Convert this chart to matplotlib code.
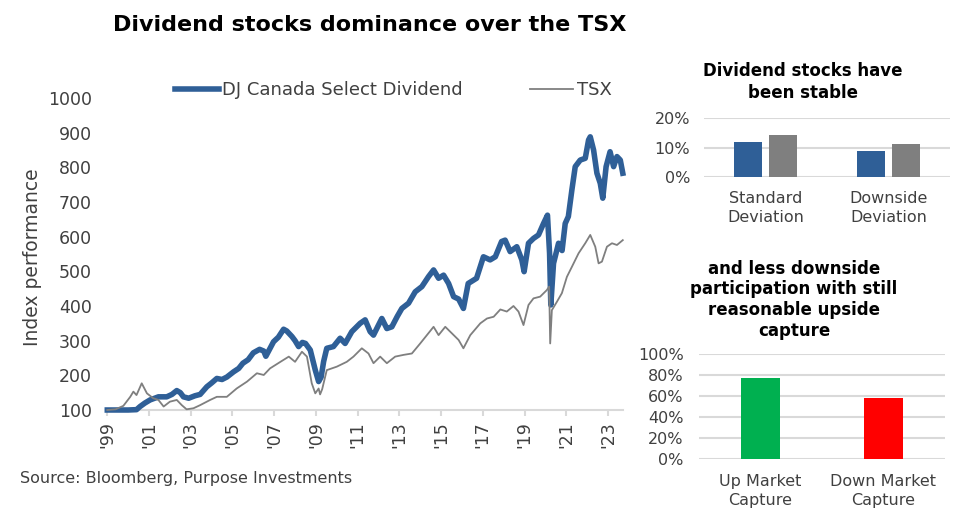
import matplotlib
matplotlib.use("Agg")
import matplotlib.pyplot as plt
from matplotlib.ticker import PercentFormatter

plt.rcParams['font.family'] = ['DejaVu Sans']

# DJ Canada Select Dividend (decimal year, index level)
div_years = [1999.0, 1999.5, 2000.0, 2000.4, 2000.57, 2000.8, 2001.05, 2001.45, 2001.85, 2002.1,
             2002.33, 2002.5, 2002.65, 2002.9, 2003.2, 2003.45, 2003.77, 2004.0, 2004.25, 2004.5,
             2004.73, 2005.05, 2005.3, 2005.5, 2005.75, 2006.0, 2006.3, 2006.5, 2006.6, 2006.97,
             2007.2, 2007.45, 2007.6, 2007.85, 2008.0, 2008.17, 2008.35, 2008.5, 2008.73, 2008.97,
             2009.13, 2009.25, 2009.37, 2009.52, 2009.84, 2010.16, 2010.4, 2010.72, 2011.12, 2011.36,
             2011.6, 2011.76, 2012.0, 2012.16, 2012.4, 2012.64, 2012.9, 2013.12, 2013.44, 2013.76,
             2014.08, 2014.4, 2014.64, 2014.88, 2015.12, 2015.36, 2015.6, 2015.84, 2016.07, 2016.3,
             2016.7, 2017.03, 2017.35, 2017.6, 2017.9, 2018.07, 2018.31, 2018.63, 2018.87, 2018.98,
             2019.19, 2019.43, 2019.67, 2019.91, 2020.1, 2020.2, 2020.26, 2020.39, 2020.63, 2020.8,
             2020.95, 2021.1, 2021.27, 2021.43, 2021.67, 2021.91, 2022.07, 2022.15, 2022.31, 2022.47,
             2022.63, 2022.75, 2022.91, 2023.1, 2023.27, 2023.43, 2023.59, 2023.71]
div_values = [100, 100, 100, 101, 110, 120, 129, 138, 138, 145,
              156, 150, 138, 134, 141, 145, 167, 178, 191, 188,
              195, 210, 220, 235, 245, 265, 275, 270, 255, 297,
              310, 333, 328, 312, 300, 283, 295, 292, 273, 215,
              182, 195, 240, 278, 283, 307, 292, 326, 350, 360,
              326, 316, 345, 364, 335, 340, 370, 393, 408, 441,
              456, 485, 504, 480, 489, 465, 427, 420, 393, 465,
              480, 542, 533, 542, 586, 590, 557, 571, 533, 499,
              581, 595, 605, 638, 662, 552, 403, 523, 581, 560,
              638, 658, 735, 802, 821, 826, 879, 888, 850, 783,
              754, 711, 802, 845, 802, 831, 821, 783]

# S&P/TSX (decimal year, index level)
tsx_years = [1999.0, 1999.4, 1999.77, 2000.1, 2000.25, 2000.4, 2000.65, 2000.9, 2001.2, 2001.45,
             2001.7, 2002.0, 2002.33, 2002.57, 2002.8, 2003.13, 2003.45, 2003.93, 2004.25, 2004.73,
             2005.2, 2005.7, 2006.17, 2006.5, 2006.8, 2007.3, 2007.7, 2008.0, 2008.33, 2008.57,
             2008.8, 2008.97, 2009.13, 2009.2, 2009.3, 2009.52, 2010.0, 2010.48, 2010.8, 2011.2,
             2011.52, 2011.76, 2012.08, 2012.4, 2012.8, 2013.2, 2013.6, 2014.0, 2014.32, 2014.64,
             2014.88, 2015.2, 2015.52, 2015.84, 2016.07, 2016.4, 2016.88, 2017.2, 2017.52, 2017.84,
             2018.15, 2018.47, 2018.71, 2018.95, 2019.19, 2019.43, 2019.75, 2020.07, 2020.18, 2020.23,
             2020.31, 2020.55, 2020.79, 2021.03, 2021.27, 2021.59, 2021.91, 2022.15, 2022.39, 2022.55,
             2022.71, 2022.95, 2023.19, 2023.43, 2023.71]
tsx_values = [100, 102, 112, 138, 153, 143, 177, 148, 134, 129,
              110, 124, 129, 114, 102, 105, 114, 129, 138, 138,
              162, 182, 206, 201, 220, 239, 254, 239, 268, 254,
              177, 148, 162, 145, 160, 215, 225, 239, 254, 278,
              263, 235, 254, 235, 254, 259, 263, 292, 316, 340,
              316, 340, 321, 302, 278, 316, 350, 364, 369, 390,
              384, 400, 384, 345, 403, 422, 427, 446, 456, 292,
              388, 412, 437, 484, 513, 552, 581, 605, 571, 523,
              528, 571, 581, 576, 590]

year_ticks = list(range(1999, 2024, 2))
year_labels = ["'99", "'01", "'03", "'05", "'07", "'09", "'11", "'13", "'15", "'17", "'19", "'21", "'23"]

vol_categories = ["Standard\nDeviation", "Downside\nDeviation"]
vol_dividend = [0.119, 0.088]
vol_tsx = [0.142, 0.113]

capture_categories = ["Up Market\nCapture", "Down Market\nCapture"]
capture_values = [0.773, 0.581]

BLUE = '#2F5F97'
GRAY = '#7F7F7F'
GRID = '#D9D9D9'
TXT = '#404040'

W, H = 975, 519
fig = plt.figure(figsize=(W / 100, H / 100), dpi=100)


def box(left, top, right, bottom):
    return [left / W, 1 - bottom / H, (right - left) / W, (bottom - top) / H]


# main line chart
ax = fig.add_axes(box(107.3, 98, 623, 410))
l1, = ax.plot(div_years, div_values, color=BLUE, lw=4, label='DJ Canada Select Dividend',
              clip_on=False, zorder=3, solid_joinstyle='round')
l2, = ax.plot(tsx_years, tsx_values, color=GRAY, lw=1.3, label='TSX', clip_on=False, zorder=4)
ax.set_xlim(1999, 2023.72)
ax.set_ylim(100, 1000)
ax.set_yticks(range(100, 1001, 100))
ax.set_xticks(year_ticks)
ax.set_xticklabels(year_labels, rotation=90)
for s in ['top', 'right', 'left']:
    ax.spines[s].set_visible(False)
ax.spines['bottom'].set_color(GRID)
ax.spines['bottom'].set_linewidth(1.5)
ax.tick_params(axis='x', colors=GRID, length=4, width=1.5, labelcolor=TXT, labelsize=12.5, pad=4)
ax.tick_params(axis='y', length=0, labelcolor=TXT, labelsize=12.5, pad=11)

fig.text(33 / W, 1 - 257 / H, 'Index performance', rotation=90, ha='center', va='center',
         fontsize=13.5, color=TXT)
fig.legend(handles=[l1, l2], loc='center', bbox_to_anchor=(393.5 / W, 1 - 90 / H), ncol=2,
           frameon=False, handlelength=2.4, handletextpad=0.2, columnspacing=3.7, fontsize=13,
           labelcolor=TXT)

fig.text(370 / W, 1 - 25 / H, 'Dividend stocks dominance over the TSX', ha='center', va='center',
         fontsize=16, fontweight='bold', color='black')
fig.text(20 / W, 1 - 478 / H, 'Source: Bloomberg, Purpose Investments', ha='left', va='center',
         fontsize=11.5, color=TXT)


def style_bar_axes(a):
    for s in a.spines.values():
        s.set_visible(False)
    a.grid(axis='y', color=GRID, lw=1.5)
    a.set_axisbelow(True)
    a.tick_params(axis='both', length=0, labelcolor=TXT, labelsize=11.5)
    a.yaxis.set_major_formatter(PercentFormatter(1.0, decimals=0))


# volatility bars
ax2 = fig.add_axes(box(704, 117.7, 950, 177.3))
xs = range(len(vol_categories))
ax2.bar([x - 0.141 for x in xs], vol_dividend, width=0.225, color=BLUE)
ax2.bar([x + 0.141 for x in xs], vol_tsx, width=0.225, color=GRAY)
ax2.set_xlim(-0.5, 1.5)
ax2.set_ylim(0, 0.2)
ax2.set_yticks([0, 0.1, 0.2])
ax2.set_xticks(list(xs))
ax2.set_xticklabels(vol_categories, linespacing=1.35)
style_bar_axes(ax2)
ax2.tick_params(axis='y', pad=10)
ax2.tick_params(axis='x', pad=10)
fig.text(802.7 / W, 1 - 82 / H, 'Dividend stocks have\nbeen stable', ha='center', va='center',
         fontsize=12, fontweight='bold', linespacing=1.25)

# capture bars
ax3 = fig.add_axes(box(699, 354.3, 945, 458.7))
xs = range(len(capture_categories))
ax3.bar(list(xs), capture_values, width=0.31, color=['#00B050', '#FF0000'])
ax3.set_xlim(-0.5, 1.5)
ax3.set_ylim(0, 1.0)
ax3.set_yticks([0, 0.2, 0.4, 0.6, 0.8, 1.0])
ax3.set_xticks(list(xs))
ax3.set_xticklabels(capture_categories, linespacing=1.35)
style_bar_axes(ax3)
ax3.tick_params(axis='y', pad=11)
ax3.tick_params(axis='x', pad=11)
fig.text(794 / W, 1 - 299.7 / H,
         'and less downside\nparticipation with still\nreasonable upside\ncapture',
         ha='center', va='center', fontsize=12, fontweight='bold', linespacing=1.2)

fig.savefig('out.png', dpi=100)
